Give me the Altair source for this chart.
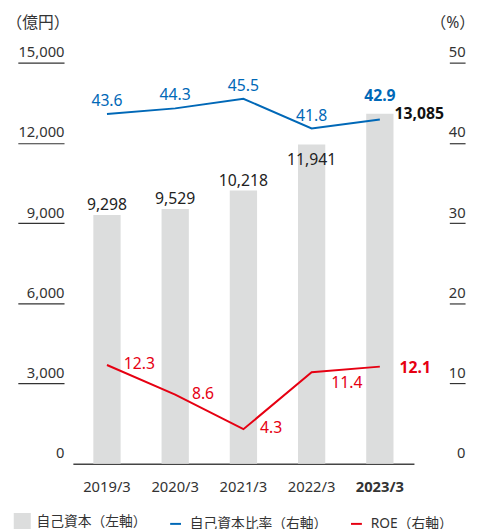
import altair as alt
import pandas as pd

# ---- data ----
years = ["2019/3", "2020/3", "2021/3", "2022/3", "2023/3"]
equity = [9298, 9529, 10218, 11941, 13085]
equity_ratio = [43.6, 44.3, 45.5, 41.8, 42.9]
roe = [12.3, 8.6, 4.3, 11.4, 12.1]
series_names = ["自己資本（左軸）", "自己資本比率（右軸）", "ROE（右軸）"]
left_ticks = [0, 3000, 6000, 9000, 12000, 15000]
right_ticks = [0, 10, 20, 30, 40, 50]

GRAY = "#dcdddd"
BLUE = "#0068b7"
RED = "#e60012"
TXT = "#333333"
FONT = "Noto Sans, Noto Sans CJK JP"
latest_year = years[-1]
adjusted_year = years[3]   # labels of this year are moved to avoid the lines

df = pd.DataFrame({"year": years, "equity": equity, "ratio": equity_ratio, "roe": roe})
df["latest"] = df["year"] == latest_year
df["adjusted"] = df["year"] == adjusted_year

base = alt.Chart(df)
normal = "!datum.latest && !datum.adjusted"

x_axis = alt.Axis(
    title=None, labelAngle=0, domain=True, domainColor="#444444", domainWidth=1.5,
    ticks=False, labelPadding=23, labelBaseline="middle",
    labelFontSize=15, labelColor=TXT,
    labelFontWeight={"condition": {"test": f"datum.value === '{latest_year}'", "value": "bold"}, "value": "normal"},
)
x_enc = alt.X("year:N", sort=years, scale=alt.Scale(paddingInner=0.6, paddingOuter=0.3), axis=x_axis)

left_scale = alt.Scale(domain=[0, 15000])
right_scale = alt.Scale(domain=[0, 50])

left_axis = alt.Axis(
    values=left_ticks, labelExpr="format(datum.value, ',')", orient="left", domain=False, grid=False,
    offset=9, tickSize=47, tickColor="#333333", tickWidth=1.2,
    tickOpacity={"condition": {"test": "datum.value === 0", "value": 0}, "value": 1},
    labelAlign="right", labelPadding=-47, labelBaseline="alphabetic", labelOffset=-6,
    labelFontSize=15, labelColor=TXT, labelFlush=False, labelOverlap=False,
    title="（億円）", titleAngle=0, titleAlign="center", titleBaseline="middle",
    titleX=-27, titleY=-41, titleFontSize=16, titleFontWeight="normal", titleColor=TXT,
)
right_axis = alt.Axis(
    values=right_ticks, labelExpr="format(datum.value, 'd')", orient="right", domain=False, grid=False,
    offset=36, tickSize=16, tickColor="#333333", tickWidth=1.2,
    tickOpacity={"condition": {"test": "datum.value === 0", "value": 0}, "value": 1},
    labelAlign="right", labelPadding=0, labelBaseline="alphabetic", labelOffset=-6,
    labelFontSize=15, labelColor=TXT, labelFlush=False, labelOverlap=False,
    title="（%）", titleAngle=0, titleAlign="center", titleBaseline="middle",
    titleX=3, titleY=-41, titleFontSize=16, titleFontWeight="normal", titleColor=TXT,
)

y_left = alt.Y("equity:Q", scale=left_scale, axis=left_axis)
eq_text = alt.Text("equity:Q", format=",")

bars = base.mark_bar(color=GRAY).encode(x=x_enc, y=y_left)
bar_labels = base.transform_filter(normal).mark_text(
    baseline="alphabetic", dy=-5, fontSize=16, color="#222222"
).encode(x=x_enc, y=y_left, text=eq_text)
bar_label_adj = base.transform_filter("datum.adjusted").mark_text(
    baseline="alphabetic", dy=21, fontSize=16, color="#222222"
).encode(x=x_enc, y=y_left, text=eq_text)
bar_label_latest = base.transform_filter("datum.latest").mark_text(
    align="left", baseline="middle", dx=15, fontSize=16, fontWeight="bold", color="#111111"
).encode(x=x_enc, y=y_left, text=eq_text)

left_layer = alt.layer(bars, bar_labels, bar_label_adj, bar_label_latest)

y_ratio = alt.Y("ratio:Q", scale=right_scale, axis=right_axis)
y_roe = alt.Y("roe:Q", scale=right_scale, axis=right_axis)
ratio_text = alt.Text("ratio:Q", format=".1f")
roe_text = alt.Text("roe:Q", format=".1f")

ratio_line = base.mark_line(color=BLUE, strokeWidth=2).encode(x=x_enc, y=y_ratio)
ratio_labels = base.transform_filter("!datum.latest").mark_text(
    baseline="alphabetic", dy=-8, fontSize=16, color=BLUE
).encode(x=x_enc, y=y_ratio, text=ratio_text)
ratio_label_latest = base.transform_filter("datum.latest").mark_text(
    baseline="alphabetic", dy=-19, fontSize=16, fontWeight="bold", color=BLUE
).encode(x=x_enc, y=y_ratio, text=ratio_text)

roe_line = base.mark_line(color=RED, strokeWidth=2).encode(x=x_enc, y=y_roe)
roe_labels = base.transform_filter(normal).mark_text(
    align="left", baseline="middle", dx=17, dy=-1, fontSize=16, color=RED
).encode(x=x_enc, y=y_roe, text=roe_text)
roe_label_adj = base.transform_filter("datum.adjusted").mark_text(
    align="left", baseline="middle", dx=20, dy=11, fontSize=16, color=RED
).encode(x=x_enc, y=y_roe, text=roe_text)
roe_label_latest = base.transform_filter("datum.latest").mark_text(
    align="left", baseline="middle", dx=20, dy=1, fontSize=16, fontWeight="bold", color=RED
).encode(x=x_enc, y=y_roe, text=roe_text)

right_layer = alt.layer(ratio_line, ratio_labels, ratio_label_latest,
                        roe_line, roe_labels, roe_label_adj, roe_label_latest)

# legend (built from an empty point layer sharing fill/stroke/shape scales)
leg_df = pd.DataFrame({"series": series_names})
square_path = "M-0.9,-0.9H0.9V0.9H-0.9Z"
line_path = "M-0.65,0H0.65"
legend = alt.Legend(
    title=None, orient="none", legendX=-61, legendY=457, direction="horizontal",
    symbolSize=289, symbolStrokeWidth=2, symbolOpacity=1, labelFontSize=14, labelColor=TXT,
    labelFont=FONT, columnPadding=19, labelOffset=5, padding=0,
)
color_scale = alt.Scale(domain=series_names, range=[GRAY, BLUE, RED])
legend_layer = alt.Chart(leg_df).transform_filter("false").mark_point(filled=True, strokeWidth=2, opacity=1).encode(
    fill=alt.Fill("series:N", scale=color_scale, legend=legend),
    stroke=alt.Stroke("series:N", scale=color_scale, legend=legend),
    shape=alt.Shape("series:N", scale=alt.Scale(domain=series_names, range=[square_path, line_path, line_path]), legend=legend),
)

chart = (
    alt.layer(left_layer, right_layer, legend_layer)
    .resolve_scale(y="independent")
    .properties(
        width=347, height=408,
        autosize=alt.AutoSizeParams(type="none"),
        padding={"left": 66, "top": 51, "right": 56, "bottom": 70},
    )
    .configure(font=FONT)
    .configure_view(stroke=None)
)

chart.save("out.html", embed_options={"renderer": "svg", "actions": False})
